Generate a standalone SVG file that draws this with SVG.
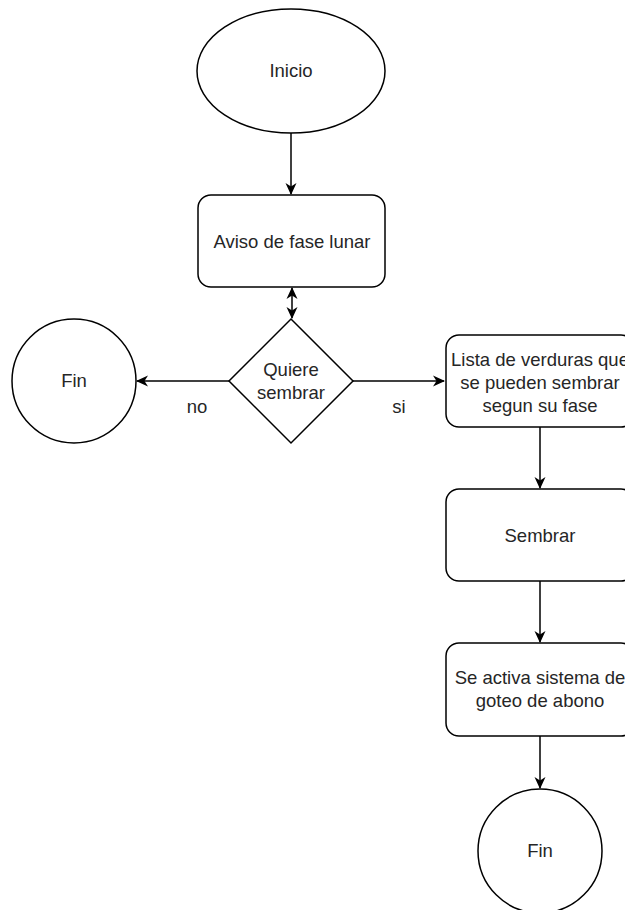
<svg xmlns="http://www.w3.org/2000/svg" width="625" height="910" viewBox="0 0 625 910">
  <style>
    .shape { fill: #ffffff; stroke: #000000; stroke-width: 1.5; }
    .edge { fill: none; stroke: #000000; stroke-width: 1.5; }
    .label { font-family: "Liberation Sans", Arial, sans-serif; font-size: 18.5px; fill: #262626; text-anchor: middle; }
  </style>
  <defs>
    <marker id="arrow" viewBox="0 0 12 12" refX="11" refY="6" markerWidth="12" markerHeight="12" markerUnits="userSpaceOnUse" orient="auto">
      <path d="M0,0.5 L12,6 L0,11.5 L3.5,6 Z" fill="#000000"/>
    </marker>
    <marker id="arrowStart" viewBox="0 0 12 12" refX="1" refY="6" markerWidth="12" markerHeight="12" markerUnits="userSpaceOnUse" orient="auto">
      <path d="M12,0.5 L0,6 L12,11.5 L8.5,6 Z" fill="#000000"/>
    </marker>
  </defs>
  <rect width="625" height="910" fill="#ffffff"/>

  <g id="connectors">
    <line class="edge" x1="291" y1="133" x2="291" y2="194" marker-end="url(#arrow)"/>
    <line class="edge" x1="292" y1="288" x2="292" y2="318" marker-start="url(#arrowStart)" marker-end="url(#arrow)"/>
    <line class="edge" x1="229" y1="381" x2="137" y2="381" marker-end="url(#arrow)"/>
    <line class="edge" x1="353" y1="381" x2="444" y2="381" marker-end="url(#arrow)"/>
    <line class="edge" x1="540" y1="427" x2="540" y2="488" marker-end="url(#arrow)"/>
    <line class="edge" x1="540" y1="581" x2="540" y2="642" marker-end="url(#arrow)"/>
    <line class="edge" x1="540" y1="736" x2="540" y2="788" marker-end="url(#arrow)"/>
    <text class="label" x="197" y="413">no</text>
    <text class="label" x="399" y="413">si</text>
  </g>

  <g id="inicio">
    <ellipse class="shape" cx="291" cy="71" rx="94" ry="62"/>
    <text class="label" x="291" y="77">Inicio</text>
  </g>

  <g id="aviso">
    <rect class="shape" x="198" y="195" width="187" height="92" rx="13"/>
    <text class="label" x="292" y="248">Aviso de fase lunar</text>
  </g>

  <g id="decision">
    <polygon class="shape" points="291,319 353,381 291,443 229,381"/>
    <text class="label" x="291" y="376">Quiere</text>
    <text class="label" x="291" y="399">sembrar</text>
  </g>

  <g id="fin-no">
    <circle class="shape" cx="74" cy="381" r="62"/>
    <text class="label" x="74" y="387">Fin</text>
  </g>

  <g id="lista">
    <rect class="shape" x="446" y="335" width="188" height="92" rx="13"/>
    <text class="label" x="540" y="366">Lista de verduras que</text>
    <text class="label" x="540" y="389">se pueden sembrar</text>
    <text class="label" x="540" y="412">segun su fase</text>
  </g>

  <g id="sembrar">
    <rect class="shape" x="446" y="489" width="188" height="92" rx="13"/>
    <text class="label" x="540" y="542">Sembrar</text>
  </g>

  <g id="goteo">
    <rect class="shape" x="446" y="643" width="188" height="93" rx="13"/>
    <text class="label" x="540" y="684">Se activa sistema de</text>
    <text class="label" x="540" y="707">goteo de abono</text>
  </g>

  <g id="fin-si">
    <circle class="shape" cx="540" cy="851" r="62"/>
    <text class="label" x="540" y="857">Fin</text>
  </g>
</svg>
